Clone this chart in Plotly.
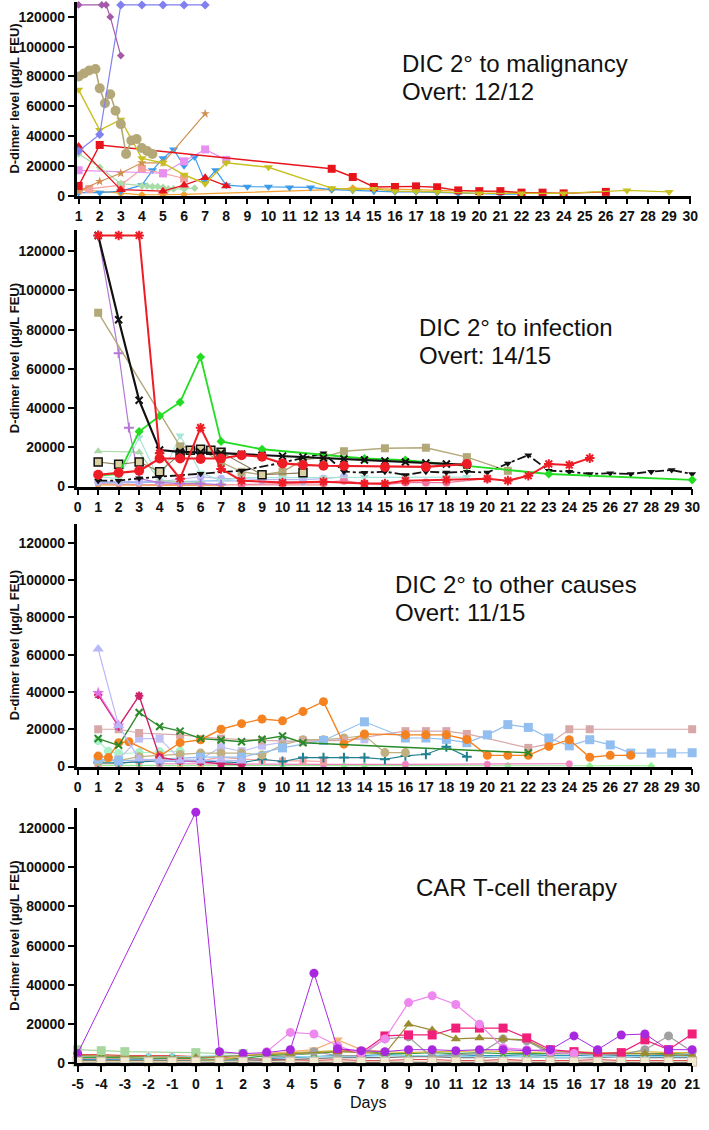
import plotly.graph_objects as go

W, H = 709, 1130

# ---------------- Panel 1: DIC 2° to malignancy ----------------
P1_TICKS = list(range(1, 31))
m_purple_x = [1, 2.1, 2.3, 2.5, 3.0]
m_purple_y = [128000, 128000, 128000, 120000, 94000]
m_peri_x = [1, 2, 3, 4, 5, 6, 7]
m_peri_y = [30000, 41000, 128000, 128000, 128000, 128000, 128000]
m_khaki_x = [1, 1.25, 1.5, 1.8, 2, 2.25, 2.5, 2.75, 3, 3.25, 3.5, 3.75, 4, 4.25, 4.5]
m_khaki_y = [80000, 82000, 84000, 85000, 72000, 62000, 68000, 57000, 48000, 28000, 37000, 38000, 32000, 30000, 28000]
m_yellow_x = [1, 2, 3, 4, 5, 6, 7, 8, 10, 13, 14, 15, 16, 17, 18, 20, 22, 24, 27, 29]
m_yellow_y = [71000, 44000, 51000, 25000, 22000, 14000, 8000, 22000, 19000, 5000, 4000, 4500, 3000, 3000, 2500, 1500, 1500, 1500, 3500, 2500]
m_redsq_x = [1, 2, 13, 14, 15, 16, 17, 18, 19, 20, 21, 22, 23, 24, 26]
m_redsq_y = [6500, 34000, 18000, 12500, 5800, 5800, 6200, 5600, 3500, 3000, 3000, 2000, 2000, 1500, 2500]
m_redtri_x = [1, 3, 5, 6, 7, 8]
m_redtri_y = [33000, 4000, 3000, 7000, 12000, 6500]
m_ltgreen_x = [1, 2, 3, 4, 4.25, 4.5, 4.75, 5, 5.25, 5.5, 6, 6.5]
m_ltgreen_y = [28000, 19000, 8000, 6500, 6500, 6000, 6000, 5500, 4500, 4500, 4500, 5000]
m_violet_x = [1, 5, 6, 7, 8]
m_violet_y = [17000, 15000, 23000, 31000, 24000]
m_salmon_x = [1, 1.5, 3, 4, 5, 6]
m_salmon_y = [4000, 4500, 7000, 18000, 15000, 11500]
m_blue_x = [1, 2, 3, 4, 4.5, 5, 5.5, 6, 6.5, 7, 7.5, 8, 9, 10, 11, 12, 13, 14, 15, 16, 17, 18, 19, 20, 21, 22]
m_blue_y = [2000, 2000, 3000, 7000, 17000, 25000, 31000, 20000, 26000, 9000, 17000, 7000, 6000, 6000, 5500, 5500, 4000, 3500, 3000, 2500, 2500, 2000, 1500, 1500, 1000, 1000]
m_brown_x = [1, 2, 3, 4, 5, 7]
m_brown_y = [3000, 9500, 15000, 22000, 22000, 55000]
m_orange_x = [1, 3, 4, 5, 6, 13, 14, 24]
m_orange_y = [4000, 1500, 500, 500, 800, 4000, 5000, 1500]

# ---------------- Panel 2: DIC 2° to infection ----------------
P2_TICKS = list(range(0, 31))
i_redstar_x = [1, 2, 3, 4, 5, 6, 7, 8, 10, 12, 14, 15, 16, 18, 20, 21, 22, 23, 24, 25]
i_redstar_y = [128000, 128000, 128000, 17000, 4000, 30000, 9000, 3000, 2000, 2500, 1500, 1500, 3000, 3500, 4000, 3000, 5500, 11500, 11000, 14500]
i_redcirc_x = [1, 2, 3, 4, 5, 6, 7, 8, 9, 10, 11, 12, 13, 15, 17, 19]
i_redcirc_y = [6000, 7000, 8000, 14300, 14300, 14000, 14300, 16000, 15200, 11800, 11000, 10600, 10500, 10000, 10000, 11500]
i_black_x = [1, 2, 3, 4, 5, 6, 7, 8, 9, 10, 11, 12, 13, 14, 15, 16, 17, 18, 19]
i_black_y = [128000, 85000, 44000, 18600, 17700, 17500, 17000, 16500, 16000, 15500, 15000, 14500, 14000, 13500, 13000, 12500, 12000, 11500, 11000]
i_tan_x = [1, 5, 6, 7, 8, 9, 10, 11, 12, 13, 15, 17, 19, 21]
i_tan_y = [88600, 20500, 19000, 12500, 7500, 6000, 7500, 13500, 15000, 18000, 19500, 19800, 15000, 8000]
i_tanbox_x = [1, 2, 3, 4, 5, 5.5, 6, 6.5, 7, 9, 11]
i_tanbox_y = [12500, 11300, 12500, 7600, 16500, 18500, 19000, 18500, 17500, 6000, 7000]
i_green_x = [1, 2, 3, 4, 5, 6, 7, 9, 14, 16, 19, 23, 30]
i_green_y = [5600, 6400, 28000, 36000, 43000, 66000, 23000, 19000, 14300, 13500, 10500, 6400, 3400]
i_purple_x = [1, 2, 2.5, 3, 4, 5, 6, 7]
i_purple_y = [128000, 68000, 30000, 4000, 2000, 1500, 1500, 1000]
i_ltgreen_x = [1, 3, 4, 5, 6]
i_ltgreen_y = [18000, 17500, 3000, 2500, 2000]
i_teal_x = [1, 2, 3, 4, 5, 6, 7, 8, 10, 12, 14, 16, 18, 19]
i_teal_y = [5000, 4000, 25000, 3000, 26000, 7000, 3000, 4500, 4500, 4500, 4800, 4800, 4800, 4800]
i_dotted_x = [1, 2, 3, 4, 6, 8, 10, 12, 13, 14, 15, 16, 17, 18, 19, 20, 21, 22, 23, 24, 25, 26, 27, 28, 29, 30]
i_dotted_y = [3000, 3000, 4200, 5000, 6500, 8100, 12200, 17000, 7600, 7000, 7600, 5900, 7600, 7100, 7600, 7100, 11800, 16000, 8100, 7600, 6400, 6800, 6400, 7600, 8400, 6400]
i_pink_x = [8, 10, 12, 13, 14, 15, 16, 17, 18, 20]
i_pink_y = [1000, 1500, 2000, 3000, 1500, 1000, 2000, 2000, 2000, 4000]
i_lav_x = [1, 2, 3, 4, 5, 6, 7, 8, 9, 10, 11, 12, 13]
i_lav_y = [2500, 2500, 2500, 2500, 3700, 5000, 4000, 4000, 3500, 3500, 3500, 4000, 5000]
i_orange_x = [1, 2, 3, 4, 5, 6, 7]
i_orange_y = [800, 800, 600, 600, 500, 500, 500]
i_salmon_x = [1, 2, 3, 4, 5, 6, 8, 10, 12]
i_salmon_y = [1500, 1200, 1000, 1000, 1000, 800, 800, 800, 800]
i_ltblue_x = [1, 3, 5, 7, 9, 11]
i_ltblue_y = [2000, 2000, 2500, 3000, 2500, 2000]

# ---------------- Panel 3: DIC 2° to other causes ----------------
P3_TICKS = list(range(0, 31))
o_lavtri_x = [1, 2, 3, 4, 5, 6, 7, 8]
o_lavtri_y = [63000, 22000, 4000, 3500, 3000, 3000, 3500, 3000]
o_violet_x = [1, 2]
o_violet_y = [39500, 22000]
o_crimson_x = [1, 2, 3, 4, 5, 6, 7, 8]
o_crimson_y = [38500, 21500, 38000, 5000, 3000, 2500, 1500, 1000]
o_green_x = [1, 2, 3, 4, 5, 6, 7, 8, 9, 10, 11, 22]
o_green_y = [15000, 11400, 29000, 21500, 19000, 15000, 14200, 13300, 14600, 16400, 12800, 7400]
o_orange_x = [1, 1.5, 2, 2.5, 4, 5, 6, 7, 8, 9, 10, 11, 12, 13, 14, 16, 17, 18, 19, 20, 21, 22, 23, 24, 25, 26, 27]
o_orange_y = [5600, 4800, 12800, 13300, 5500, 12800, 14400, 20000, 23000, 25500, 24500, 29500, 34800, 12000, 17500, 17000, 17000, 17000, 14500, 6000, 6000, 6000, 10800, 14400, 5000, 6000, 6000]
o_ltblue_x = [1, 2, 4, 6, 8, 10, 12, 14, 16, 17, 18, 19, 20, 21, 22, 23, 24, 25, 26, 27, 28, 29, 30]
o_ltblue_y = [4000, 3000, 4000, 5000, 5000, 10000, 14000, 24000, 15300, 15300, 14600, 12800, 17000, 22500, 21000, 15300, 11100, 14400, 11600, 7200, 7200, 7200, 7400]
o_rosy_x = [1, 2, 3, 5, 7, 9, 11, 13, 16, 17, 18, 19, 22, 23, 24, 25, 30]
o_rosy_y = [20000, 20000, 18000, 17000, 15000, 14000, 13500, 14000, 19000, 19000, 19000, 17500, 10000, 12000, 20000, 20000, 20000]
o_tan_x = [1, 2, 3, 4, 5, 6, 7, 8, 9, 10, 11, 12, 13, 14, 15, 16]
o_tan_y = [2700, 3200, 5300, 6000, 6500, 7200, 7200, 7200, 6200, 11600, 14400, 14400, 15300, 16600, 7500, 7500]
o_teal_x = [1, 2, 3, 4, 5, 6, 7, 8, 9, 10, 11, 12, 13, 14, 15, 16, 17, 18, 19]
o_teal_y = [2000, 2000, 2500, 3000, 3000, 3000, 2500, 2100, 3900, 2700, 4800, 4800, 4800, 4800, 3900, 5700, 6600, 10600, 5300]
o_mint_x = [1, 1.5, 2, 3, 4, 5]
o_mint_y = [13900, 8200, 7000, 7500, 8000, 8200]
o_lavsq_x = [1, 2, 3, 4, 5, 6, 7, 8, 9, 10, 11, 12, 13, 14]
o_lavsq_y = [3000, 4000, 15000, 15000, 3900, 4000, 10400, 8200, 11200, 13000, 14000, 14000, 14500, 14600]
o_salmon_x = [1, 2, 3, 4, 5, 6, 7, 8, 9, 10, 11, 12]
o_salmon_y = [1500, 1500, 3000, 4000, 3500, 3000, 5000, 4000, 3500, 3000, 3000, 2700]
o_ltgreen_x = [1, 4, 7, 10, 13, 14, 16, 21, 25, 28]
o_ltgreen_y = [600, 500, 500, 500, 500, 500, 500, 500, 300, 300]
o_pink_x = [4, 8, 12, 16, 20, 24]
o_pink_y = [1500, 1200, 1200, 1200, 1200, 1500]
o_peach_x = [1, 2, 3, 4, 5, 6, 7]
o_peach_y = [500, 500, 500, 500, 500, 500, 500]

# ---------------- Panel 4: CAR T-cell therapy ----------------
P4_TICKS = list(range(-5, 22))
c_purple_x = [-5, 0, 1, 2, 3, 4, 5, 6, 7, 8, 9, 10, 11, 12, 13, 14, 15, 16, 17, 18, 19, 20, 21]
c_purple_y = [5000, 128000, 6000, 5000, 5500, 7000, 46000, 7500, 6500, 6000, 7000, 7000, 6500, 7000, 7000, 6500, 7000, 14000, 7000, 14500, 15000, 7000, 7000]
c_orchid_x = [3, 4, 5, 6, 7, 8, 9, 10, 11, 12, 13, 14, 15, 16]
c_orchid_y = [6000, 15800, 15000, 9000, 5000, 12500, 31000, 34500, 30000, 20000, 8000, 7000, 6000, 5000]
c_hotpink_x = [6, 7, 8, 9, 10, 11, 12, 13, 14, 15, 16, 17, 18, 19, 20, 21]
c_hotpink_y = [7500, 5500, 14000, 14500, 14500, 18000, 18000, 18000, 13000, 7000, 6000, 5000, 5500, 12000, 7000, 15000]
c_olive_x = [-5, 0, 2, 4, 6, 8, 9, 10, 11, 12, 13, 14, 15, 16, 17, 18, 19, 20, 21]
c_olive_y = [4000, 3000, 4000, 5000, 6000, 5000, 20000, 17000, 12500, 13000, 12500, 12000, 6000, 5500, 5000, 5000, 5000, 4500, 4000]
c_gray_x = [-5, 0, 1, 2, 3, 4, 5, 6, 7, 8, 9, 10, 11, 12, 13, 14, 15, 16, 17, 18, 19, 20, 21]
c_gray_y = [500, 500, 1000, 1000, 3000, 4000, 6000, 4000, 4000, 12500, 13500, 3000, 4500, 5000, 12500, 11500, 5000, 5000, 4500, 4500, 7000, 14000, 6000]
c_peach_x = [3, 4, 5, 6, 7, 8]
c_peach_y = [5000, 6000, 7000, 12000, 7000, 6000]
c_ltgreen_x = [-5, -4, -3, 0, 1, 2]
c_ltgreen_y = [7000, 6500, 6000, 5500, 5000, 5000]
c_low1_y = [2000, 2000, 1800, 1800, 1500, 1500, 1500, 2000, 2500, 3000, 3500, 4000, 4000, 4500, 4000, 4000, 4500, 4000, 4000, 4500, 4000, 4000, 4500, 4000, 4000, 4000, 4500]
c_low2_y = [4500, 4500, 4000, 4000, 4000, 3500, 3000, 2500, 2000, 2000, 1500, 2000, 1500, 1500, 2000, 2000, 1500, 1500, 2000, 1500, 1500, 1500, 2000, 1500, 1500, 1500, 1500]
c_low3_y = [1000, 1000, 1000, 1000, 1000, 1000, 1500, 4000, 5000, 5500, 6000, 6500, 6000, 6000, 5500, 6000, 6000, 6500, 6000, 5500, 6000, 6000, 5500, 5500, 6000, 5500, 5500]
c_low4_y = [3000, 3000, 3000, 2500, 2500, 2500, 2000, 2500, 4000, 4500, 5000, 6000, 6500, 5000, 5000, 5500, 5000, 5500, 5000, 5000, 5000, 5000, 5500, 5000, 5000, 5000, 5500]
c_low5_y = [1500, 1500, 1500, 1500, 1500, 1000, 1000, 1000, 1500, 2000, 2500, 3000, 3000, 3000, 3500, 3500, 3000, 3000, 3500, 3500, 3000, 3000, 3000, 3500, 3000, 3000, 3000]
c_low6_y = [300, 300, 300, 300, 300, 300, 300, 300, 300, 300, 300, 300, 300, 300, 300, 300, 300, 300, 300, 300, 300, 300, 300, 300, 300, 300, 300]
c_low7_y = [2500, 2500, 2500, 2500, 2000, 2000, 2000, 1500, 1500, 1500, 1000, 1000, 1000, 1000, 1000, 1000, 1000, 1000, 1000, 1000, 1000, 1000, 1000, 1000, 1000, 1000, 1000]
c_low8_y = [3500, 3500, 3500, 3500, 3500, 3500, 4000, 4000, 3500, 3500, 3500, 3500, 3500, 4000, 4000, 4000, 3500, 3500, 3500, 3500, 3000, 3000, 3500, 3500, 3500, 3500, 3500]
c_beige_y = [900, 900, 900, 900, 900, 900, 900, 900, 900, 900, 900, 900, 900, 900, 900, 900, 900, 900, 900, 900, 900, 900, 900, 900, 900, 900, 900]

Y_TICKS = [0, 20000, 40000, 60000, 80000, 100000, 120000]

fig = go.Figure()


def add(p, x, y, color, symbol, size=7, width=1.2, dash=None, mcolor=None, mline=None):
    mk = dict(symbol=symbol, size=size, color=mcolor or color)
    if symbol.endswith('-thin') or symbol.endswith('-open'):
        mk['line'] = dict(width=2, color=color)
    elif mline:
        mk['line'] = mline
    sfx = '' if p == 1 else str(p)
    fig.add_trace(go.Scatter(
        x=x, y=y, mode='lines+markers',
        line=dict(color=color, width=width, dash=dash),
        marker=mk, xaxis='x' + sfx, yaxis='y' + sfx,
        cliponaxis=False, showlegend=False, hoverinfo='skip'))


# panel 1
add(1, m_orange_x, m_orange_y, '#f5a030', 'diamond', 6)
add(1, m_blue_x, m_blue_y, '#3c9cec', 'triangle-down', 8)
add(1, m_salmon_x, m_salmon_y, '#f4a0a0', 'square', 8)
add(1, m_violet_x, m_violet_y, '#e890f0', 'square', 8)
add(1, m_ltgreen_x, m_ltgreen_y, '#a8dca8', 'diamond', 6)
add(1, m_brown_x, m_brown_y, '#d09050', 'star', 7)
add(1, m_redtri_x, m_redtri_y, '#e8141c', 'triangle-up', 9)
add(1, m_redsq_x, m_redsq_y, '#e8141c', 'square', 8, 1.4)
add(1, m_yellow_x, m_yellow_y, '#c8c020', 'triangle-down', 8, 1.4)
add(1, m_khaki_x, m_khaki_y, '#b4a878', 'circle', 10, 1.6)
add(1, m_peri_x, m_peri_y, '#8080f0', 'diamond', 7)
add(1, m_purple_x, m_purple_y, '#a45aa8', 'diamond', 6)

# panel 2
add(2, i_orange_x, i_orange_y, '#f4a040', 'circle', 6)
add(2, i_salmon_x, i_salmon_y, '#f49090', 'circle', 6)
add(2, i_ltblue_x, i_ltblue_y, '#90b8f0', 'circle', 6)
add(2, i_lav_x, i_lav_y, '#b8b8f4', 'circle', 8)
add(2, i_pink_x, i_pink_y, '#f078a0', 'circle', 8)
add(2, i_teal_x, i_teal_y, '#a8e4d8', 'triangle-down', 8)
add(2, i_ltgreen_x, i_ltgreen_y, '#a8d8a8', 'triangle-up', 8)
add(2, i_purple_x, i_purple_y, '#b478d8', 'cross-thin', 7)
add(2, i_tan_x, i_tan_y, '#b3a878', 'square', 8, 1.4)
add(2, i_tanbox_x, i_tanbox_y, '#8a7e58', 'square', 8, 1.2, mcolor='#d8d0a0',
    mline=dict(width=1.5, color='#111'))
add(2, i_dotted_x, i_dotted_y, '#111111', 'triangle-down', 7, 1.8, dash='dashdot')
add(2, i_green_x, i_green_y, '#22dd22', 'diamond', 7, 1.8)
add(2, i_black_x, i_black_y, '#111111', 'x-thin', 7, 2.2)
add(2, i_redcirc_x, i_redcirc_y, '#ee1c24', 'circle', 10, 2.2)
add(2, i_redstar_x, i_redstar_y, '#ee1c24', 'asterisk-open', 8, 2.0)

# panel 3
add(3, o_peach_x, o_peach_y, '#f8b878', 'diamond', 6)
add(3, o_ltgreen_x, o_ltgreen_y, '#90ee90', 'diamond', 6)
add(3, o_pink_x, o_pink_y, '#f080c0', 'asterisk-open', 6)
add(3, o_salmon_x, o_salmon_y, '#f4a0a0', 'square', 7)
add(3, o_teal_x, o_teal_y, '#1f8090', 'cross-thin', 7)
add(3, o_mint_x, o_mint_y, '#a8f0c8', 'circle', 9)
add(3, o_lavsq_x, o_lavsq_y, '#c0c0f4', 'square', 8)
add(3, o_tan_x, o_tan_y, '#c0b080', 'circle', 9)
add(3, o_rosy_x, o_rosy_y, '#d8a8a8', 'square', 8)
add(3, o_ltblue_x, o_ltblue_y, '#92bff0', 'square', 9)
add(3, o_orange_x, o_orange_y, '#f58220', 'circle', 9, 1.4)
add(3, o_green_x, o_green_y, '#2a8a2a', 'x-thin', 7, 1.4)
add(3, o_crimson_x, o_crimson_y, '#d0206a', 'asterisk-open', 7, 1.4)
add(3, o_violet_x, o_violet_y, '#e070e8', 'star', 9)
add(3, o_lavtri_x, o_lavtri_y, '#b8b8f8', 'triangle-up', 10)

# panel 4
add(4, P4_TICKS, c_low6_y, '#222222', 'circle', 5)
add(4, P4_TICKS, c_low7_y, '#f4a6a0', 'circle', 7)
add(4, P4_TICKS, c_low1_y, '#3090c0', 'circle', 6)
add(4, P4_TICKS, c_low2_y, '#e05050', 'triangle-up', 6)
add(4, P4_TICKS, c_low5_y, '#707070', 'triangle-down', 6)
add(4, P4_TICKS, c_low8_y, '#90d8f0', 'square', 6)
add(4, P4_TICKS, c_low4_y, '#40a040', 'x-thin', 6)
add(4, P4_TICKS, c_low3_y, '#d8b840', 'star', 7)
add(4, c_ltgreen_x, c_ltgreen_y, '#a8d8a0', 'square', 9)
add(4, c_peach_x, c_peach_y, '#f4b070', 'triangle-down', 9)
add(4, c_gray_x, c_gray_y, '#a0a0a0', 'circle', 9)
add(4, c_olive_x, c_olive_y, '#9a8a30', 'triangle-up', 9)
add(4, c_hotpink_x, c_hotpink_y, '#f0207a', 'square', 9)
add(4, c_orchid_x, c_orchid_y, '#ee88ee', 'circle', 9)
add(4, c_purple_x, c_purple_y, '#a828e0', 'circle', 9, 1.0)
add(4, P4_TICKS, c_beige_y, '#e8dcc0', 'square', 9, 1.0, mcolor='#f2ead2',
    mline=dict(width=1, color='#c8bca0'))

panels = [
    dict(xpx=(73, 699), ypx=(2, 197), xr=[0.907, 30.047], yr=[0, 130000], ticks=P1_TICKS),
    dict(xpx=(73, 700), ypx=(232, 490), xr=[-0.05, 30.0], yr=[0, 130600], ticks=P2_TICKS),
    dict(xpx=(73, 700), ypx=(528, 772), xr=[-0.05, 30.0], yr=[0, 130000], ticks=P3_TICKS),
    dict(xpx=(73, 700), ypx=(814, 1071), xr=[-5.04, 21.0], yr=[0, 130000], ticks=P4_TICKS),
]

font_b = dict(family='Liberation Sans, Arial, sans-serif', size=13, color='#111', weight='bold')
font_t = dict(family='Liberation Sans, Arial, sans-serif', size=14, color='#111', weight='bold')
layout = dict(width=W, height=H, margin=dict(l=0, r=0, t=0, b=0),
              paper_bgcolor='white', plot_bgcolor='white', showlegend=False)
for k, p in enumerate(panels, start=1):
    sfx = '' if k == 1 else str(k)
    layout['xaxis' + sfx] = dict(
        domain=[p['xpx'][0] / W, p['xpx'][1] / W], range=p['xr'],
        anchor='y' + sfx, tickvals=p['ticks'], ticktext=[str(t) for t in p['ticks']],
        showline=True, linewidth=2.5, linecolor='black', ticks='outside',
        ticklen=6, tickwidth=2, tickcolor='black', showgrid=False, zeroline=False,
        tickfont=font_t, tickangle=0)
    layout['yaxis' + sfx] = dict(
        domain=[1 - p['ypx'][1] / H, 1 - p['ypx'][0] / H], range=p['yr'],
        anchor='x' + sfx, tickvals=Y_TICKS, ticktext=[str(t) for t in Y_TICKS],
        showline=True, linewidth=2.5, linecolor='black', ticks='outside',
        ticklen=6, tickwidth=2, tickcolor='black', showgrid=False, zeroline=False,
        tickfont=font_t)
fig.update_layout(**layout)

anns = []
for p in panels:
    yc = (p['ypx'][0] + p['ypx'][1]) / 2
    anns.append(dict(x=10 / W, y=1 - yc / H, xref='paper', yref='paper',
                     text='D-dimer level (µg/L FEU)', textangle=-90, showarrow=False,
                     font=font_b, xanchor='center', yanchor='middle'))

big = dict(family='Liberation Sans, Arial, sans-serif', size=24, color='#111')
labels = [
    ('DIC 2° to malignancy', 402, 64), ('Overt: 12/12', 402, 92),
    ('DIC 2° to infection', 420, 330), ('Overt: 14/15', 420, 358),
    ('DIC 2° to other causes', 395, 589), ('Overt: 11/15', 395, 617),
    ('CAR T-cell therapy', 417, 894),
]
for t, x, y in labels:
    anns.append(dict(x=x / W, y=1 - y / H, xref='paper', yref='paper', text=t,
                     showarrow=False, font=big, xanchor='left', yanchor='middle'))
anns.append(dict(x=370 / W, y=1 - 1110 / H, xref='paper', yref='paper', text='Days',
                 showarrow=False, font=dict(family='Liberation Sans, Arial, sans-serif', size=16, color='#111'),
                 xanchor='center', yanchor='middle'))
fig.update_layout(annotations=anns)

fig.write_html('out.html')
